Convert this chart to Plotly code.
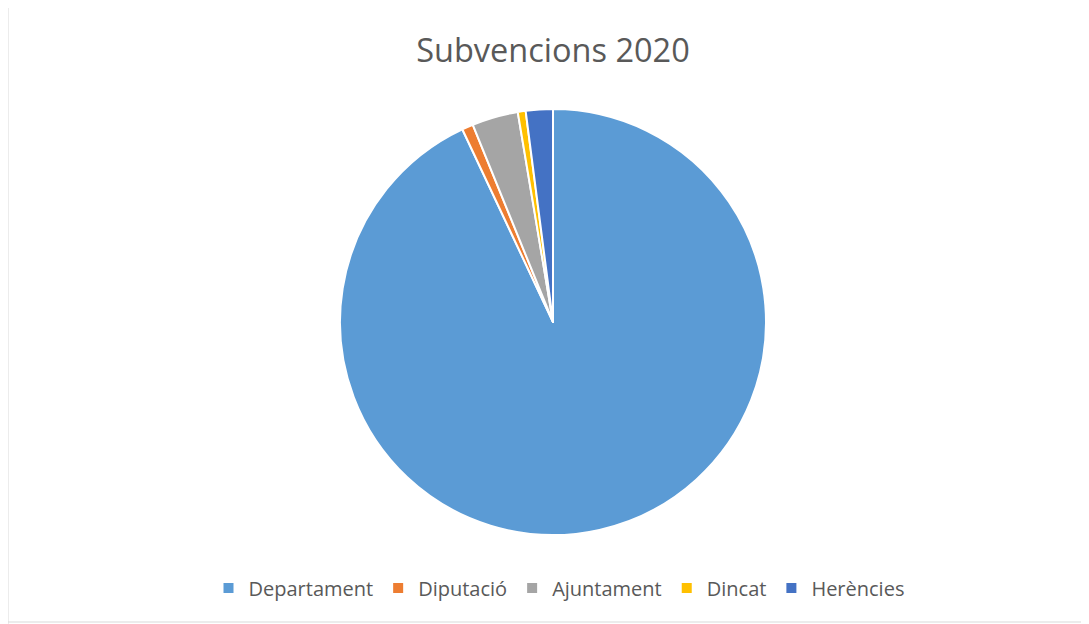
import plotly.graph_objects as go

labels = ["Departament", "Diputació", "Ajuntament", "Dincat", "Herències"]
values = [93.0, 0.85, 3.5, 0.6, 2.05]
colors = ["#5B9BD5", "#ED7D31", "#A5A5A5", "#FFC000", "#4472C4"]

W, H = 1089, 624
off = 8  # page body margin
cx, cy, r = 553 - off, 322 - off, 213

fig = go.Figure(go.Pie(
    labels=labels, values=values, sort=False, direction="clockwise", rotation=0,
    marker=dict(colors=colors, line=dict(color="white", width=2)),
    textinfo="none", hoverinfo="label+percent",
    domain=dict(x=[(cx - r) / W, (cx + r) / W], y=[(H - cy - r) / H, (H - cy + r) / H]),
))

fig.update_layout(
    width=W, height=H,
    margin=dict(l=0, r=0, t=0, b=0),
    paper_bgcolor="white",
    font=dict(family="Open Sans, sans-serif", color="#595959"),
    title=dict(text="Subvencions 2020", x=(553 - off) / W, xanchor="center", y=(H - 51 + off) / H,
               yanchor="middle", font=dict(size=32.5, color="#595959")),
    showlegend=True,
    legend=dict(orientation="h", x=(559 - off) / W, xanchor="center", y=(H - 588 + off) / H,
                yanchor="middle", font=dict(size=20, color="#595959"), itemwidth=30,
                traceorder="normal"),
    shapes=[
        dict(type="line", xref="paper", yref="paper", x0=0, x1=0, y0=0, y1=1,
             line=dict(color="#D9D9D9", width=1)),
        dict(type="line", xref="paper", yref="paper", x0=0, x1=1,
             y0=(H - 622 + off) / H, y1=(H - 622 + off) / H,
             line=dict(color="#D9D9D9", width=1)),
    ],
)

fig.write_html("out.html")
